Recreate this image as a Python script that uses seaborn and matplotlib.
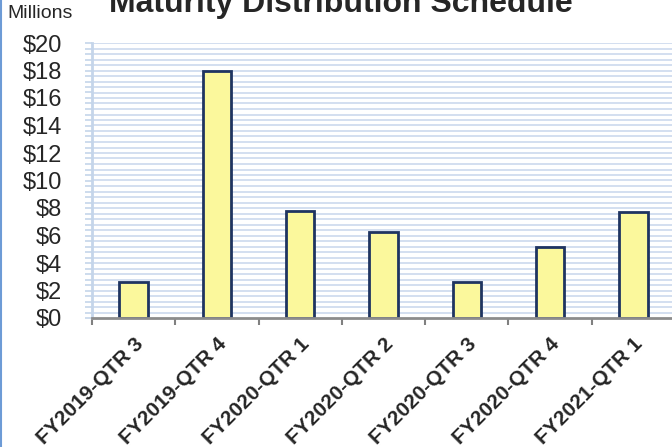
import matplotlib
matplotlib.use('Agg')
import matplotlib.pyplot as plt
from matplotlib.lines import Line2D
import seaborn as sns
import numpy as np
import pandas as pd

# dados do gráfico
trimestres = ['FY2019-QTR 3', 'FY2019-QTR 4', 'FY2020-QTR 1', 'FY2020-QTR 2',
              'FY2020-QTR 3', 'FY2020-QTR 4', 'FY2021-QTR 1']
valores = [2.6, 18.0, 7.8, 6.25, 2.6, 5.2, 7.7]
ticks_y = [0, 2, 4, 6, 8, 10, 12, 14, 16, 18, 20]

df = pd.DataFrame({'Trimestre': trimestres, 'Valor': valores})

sns.set_style('white')
plt.rcParams['font.family'] = ['Liberation Sans', 'DejaVu Sans']

fig = plt.figure(figsize=(6.72, 4.47), dpi=100, facecolor='white')
ax = fig.add_axes([92/672, 1 - 318/447, 583/672, 275/447])

# fundo listrado
for y in np.arange(0.4, 20.01, 0.4):
    ax.axhline(y, color='#d3dff0', lw=1.4, zorder=0)

sns.barplot(data=df, x='Trimestre', y='Valor', ax=ax, color='#fbf89c',
            edgecolor='#1f3461', linewidth=2, width=0.34, saturation=1, zorder=3)

ax.set_ylim(0, 20)
ax.set_xlim(-0.5, 6.5)
ax.set_yticks(ticks_y)
ax.set_yticklabels(['$%d' % v for v in ticks_y])
ax.set_yticks(np.arange(0, 20.01, 0.4), minor=True)
ax.tick_params(axis='y', which='both', left=True, length=5, width=1.2,
               color='#c5d5ea', pad=16.5)
ax.tick_params(axis='y', which='major', labelsize=17)

ax.set_xticks(np.arange(-0.5, 7, 1), minor=True)
ax.set_xticks(range(len(trimestres)))
ax.set_xticklabels(trimestres, rotation=45, ha='right', rotation_mode='anchor',
                   fontsize=15, fontweight='bold')
ax.tick_params(axis='x', which='major', length=0, pad=12)
ax.tick_params(axis='x', which='minor', bottom=True, length=5, width=1.5, color='#808080')

ax.set_xlabel('')
ax.set_ylabel('')
for s in ['top', 'right']:
    ax.spines[s].set_visible(False)
ax.spines['left'].set_color('#c5d5ea')
ax.spines['left'].set_linewidth(2)
ax.spines['bottom'].set_color('#8c8c8c')
ax.spines['bottom'].set_linewidth(2)
ax.spines['bottom'].set_zorder(4)

fig.text(341/672, 1 - 12/447, 'Maturity Distribution Schedule', ha='center', va='baseline',
         fontsize=23, fontweight='bold')
fig.text(7/672, 1 - 14/447, 'Millions', ha='left', va='center', fontsize=14)

fig.add_artist(Line2D([1/672, 1/672], [0, 1], color='#6d9bd6', lw=1.5))

fig.savefig('out.png', dpi=100, facecolor='white')
